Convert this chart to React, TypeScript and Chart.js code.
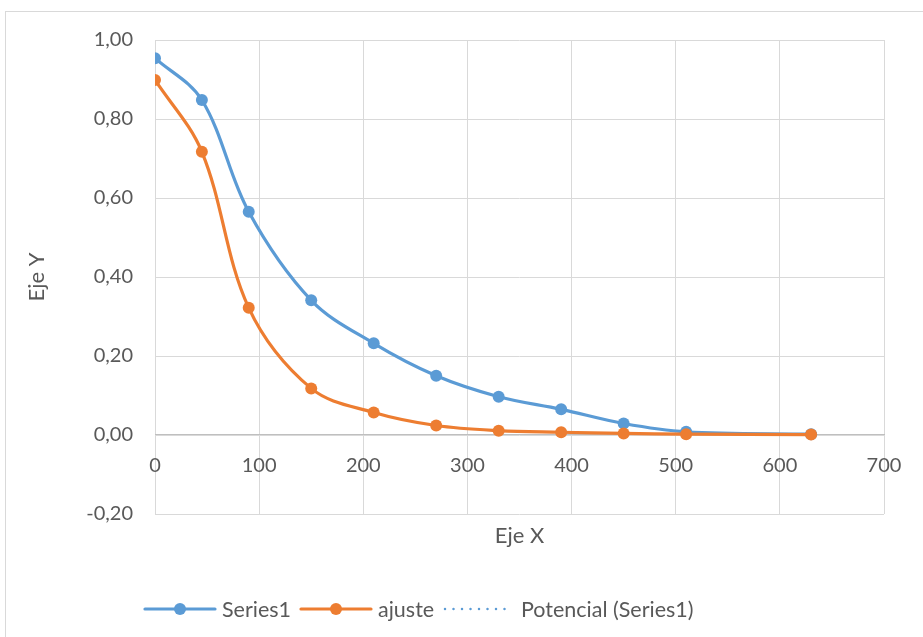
import React, { useEffect, useRef } from "react";
import { Chart, registerables } from "chart.js";

Chart.register(...registerables);

// Measured times and the two curves
const xValues = [0, 45, 90, 150, 210, 270, 330, 390, 450, 510, 630];
const series1Values = [0.954, 0.848, 0.565, 0.341, 0.232, 0.15, 0.097, 0.065, 0.029, 0.008, 0.002];
const ajusteValues = [0.899, 0.717, 0.322, 0.118, 0.057, 0.024, 0.011, 0.007, 0.004, 0.002, 0.001];

const seriesNames = ["Series1", "ajuste", "Potencial (Series1)"];
const xTitle = "Eje X";
const yTitle = "Eje Y";

const BLUE = "#5B9BD5";
const ORANGE = "#ED7D31";
const GRID = "#D9D9D9";
const TEXT = "#595959";
const FONT = "Lato, 'Liberation Sans', sans-serif";

const toPoints = (ys: number[]) => xValues.map((x, i) => ({ x, y: ys[i] }));

// "0,20" style labels; avoids "-0,00" from floating-point noise
const formatComma = (v: number) => {
  const n = Math.abs(v) < 1e-9 ? 0 : v;
  return n.toFixed(2).replace(".", ",");
};

export default function App() {
  const canvasRef = useRef<HTMLCanvasElement | null>(null);

  useEffect(() => {
    if (!canvasRef.current) return;
    const chart = new Chart(canvasRef.current, {
      type: "scatter",
      data: {
        datasets: [
          {
            label: seriesNames[0],
            data: toPoints(series1Values),
            showLine: true,
            borderColor: BLUE,
            backgroundColor: BLUE,
            borderWidth: 3.2,
            pointRadius: 6,
            pointBorderWidth: 0,
            tension: 0.35,
            order: 2,
          },
          {
            label: seriesNames[1],
            data: toPoints(ajusteValues),
            showLine: true,
            borderColor: ORANGE,
            backgroundColor: ORANGE,
            borderWidth: 3.2,
            pointRadius: 6,
            pointBorderWidth: 0,
            tension: 0.35,
            order: 1,
          },
          {
            // power trendline: undefined for x = 0, so nothing is plotted
            label: seriesNames[2],
            data: [],
            showLine: true,
            borderColor: BLUE,
            borderWidth: 2,
            borderDash: [2, 3],
            pointRadius: 0,
            order: 0,
          },
        ],
      },
      options: {
        responsive: false,
        animation: false,
        layout: { padding: { left: 0, right: 39, top: 40, bottom: 123 } },
        plugins: {
          legend: { display: false },
          tooltip: { enabled: false },
        },
        scales: {
          x: {
            type: "linear",
            position: { y: 0 },
            min: 0,
            max: 700,
            ticks: {
              stepSize: 100,
              padding: 19,
              color: TEXT,
              font: { family: FONT, size: 20 },
              maxRotation: 0,
            },
            grid: { color: GRID, lineWidth: 1, drawTicks: false },
            border: { display: true, color: "#BFBFBF", width: 1 },
            title: {
              display: true,
              text: xTitle,
              color: TEXT,
              font: { family: FONT, size: 22 },
              padding: { top: 0, bottom: 9 },
            },
            afterFit: (scale: any) => {
              scale.height = 123;
            },
          },
          y: {
            type: "linear",
            min: -0.2,
            max: 1.0,
            ticks: {
              stepSize: 0.2,
              padding: 22,
              color: TEXT,
              font: { family: FONT, size: 20 },
              callback: (v: any) => formatComma(Number(v)),
            },
            grid: { color: GRID, lineWidth: 1, drawTicks: false },
            border: { display: false },
            title: {
              display: true,
              text: yTitle,
              color: TEXT,
              font: { family: FONT, size: 22 },
              padding: { top: 24, bottom: 0 },
            },
            afterFit: (scale: any) => {
              scale.width = 155;
            },
          },
        },
      },
    });
    return () => chart.destroy();
  }, []);

  const legendText: React.CSSProperties = {
    position: "absolute",
    top: 596,
    fontFamily: FONT,
    fontSize: 21.5,
    color: TEXT,
    lineHeight: "26px",
    whiteSpace: "nowrap",
  };

  return (
    <div
      style={{
        position: "fixed",
        left: 0,
        top: 0,
        width: 923,
        height: 637,
        overflow: "hidden",
        background: "#fff",
      }}
    >
      <div
        style={{
          position: "absolute",
          left: 5,
          top: 11,
          width: 1000,
          height: 700,
          border: "1px solid #D9D9D9",
          boxSizing: "border-box",
        }}
      />
      <canvas
        ref={canvasRef}
        width={923}
        height={637}
        style={{ position: "absolute", left: 0, top: 0, width: 923, height: 637 }}
      />
      <svg
        width={923}
        height={637}
        style={{ position: "absolute", left: 0, top: 0, pointerEvents: "none" }}
      >
        <line x1={145} y1={609} x2={215} y2={609} stroke={BLUE} strokeWidth={3.2} strokeLinecap="round" />
        <circle cx={180} cy={609} r={6} fill={BLUE} />
        <line x1={301} y1={609} x2={371} y2={609} stroke={ORANGE} strokeWidth={3.2} strokeLinecap="round" />
        <circle cx={336} cy={609} r={6} fill={ORANGE} />
        <line
          x1={445}
          y1={609}
          x2={513}
          y2={609}
          stroke={BLUE}
          strokeWidth={2.5}
          strokeDasharray="0 8.5"
          strokeLinecap="round"
        />
      </svg>
      <span style={{ ...legendText, left: 222 }}>{seriesNames[0]}</span>
      <span style={{ ...legendText, left: 378 }}>{seriesNames[1]}</span>
      <span style={{ ...legendText, left: 521 }}>{seriesNames[2]}</span>
    </div>
  );
}
